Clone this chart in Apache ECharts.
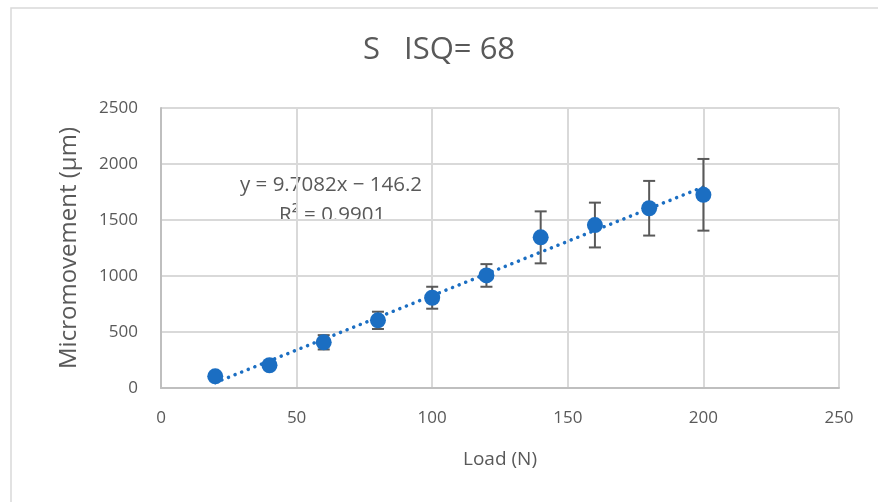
<!DOCTYPE html>
<html>
<head>
<meta charset="utf-8">
<script src="https://cdn.jsdelivr.net/npm/echarts@6/dist/echarts.min.js"></script>
<style>
  html, body { margin: 0; padding: 0; background: #fff; }
  #chart { width: 878px; height: 502px; }
</style>
</head>
<body>
<div id="chart"></div>
<script>
// data
const loads = [20, 40, 60, 80, 100, 120, 140, 160, 180, 200]
const movement = [104, 203, 408, 604, 806, 1005, 1345, 1455, 1605, 1725]
const errors = [15, 15, 64, 77, 98, 101, 232, 200, 244, 320]
const slope = 9.7082
const intercept = -146.2
const trendX = [20, 200]

const textColor = '#595959'
const blue = '#1b6ec2'

const chart = echarts.init(document.getElementById('chart'))

const option = {
    animation: false,
    title: {
        text: 'S   ISQ= 68',
        left: 'center',
        top: 30,
        textStyle: {
            fontFamily: 'Open Sans',
            fontWeight: 'normal',
            fontSize: 31,
            color: textColor
        }
    },
    grid: { left: 161, right: 39, top: 108, bottom: 114 },
    xAxis: {
        type: 'value',
        min: 0, max: 250, interval: 50,
        name: 'Load (N)',
        nameLocation: 'middle',
        nameGap: 62,
        nameTextStyle: { fontSize: 19, color: textColor, fontFamily: 'Open Sans' },
        axisLine: { lineStyle: { color: '#bfbfbf', width: 2 } },
        axisTick: { show: false },
        axisLabel: { fontSize: 17, color: textColor, margin: 22, fontFamily: 'Open Sans', formatter: v => String(v) },
        splitLine: { lineStyle: { color: '#d9d9d9', width: 2 } }
    },
    yAxis: {
        type: 'value',
        min: 0, max: 2500, interval: 500,
        name: 'Micromovement (µm)',
        nameLocation: 'middle',
        nameGap: 80,
        nameTextStyle: { fontSize: 24, color: textColor, fontFamily: 'Open Sans' },
        axisLine: { show: true, lineStyle: { color: '#bfbfbf', width: 2 } },
        axisTick: { show: false },
        axisLabel: { fontSize: 17, color: textColor, margin: 23, fontFamily: 'Open Sans', formatter: v => String(v) },
        splitLine: { lineStyle: { color: '#d9d9d9', width: 2 } }
    },
    graphic: [
        {
            type: 'rect',
            shape: { x: 11, y: 8, width: 880, height: 500 },
            style: { fill: 'none', stroke: '#d9d9d9', lineWidth: 1.5 },
            silent: true
        },
        {
            type: 'text',
            left: 240, top: 175,
            style: { text: 'y = 9.7082x − 146.2', fontSize: 20.5, fill: textColor, fontFamily: 'Open Sans' }
        },
        {
            type: 'text',
            left: 279, top: 205,
            style: { text: 'R² = 0.9901', fontSize: 20.5, fill: textColor, fontFamily: 'Open Sans' }
        }
    ],
    series: [
        {
            name: 'trend',
            type: 'line',
            data: trendX.map(x => [x, slope * x + intercept]),
            symbol: 'none',
            lineStyle: { color: blue, width: 3.5, type: [0.1, 7], cap: 'round' },
            z: 2
        },
        {
            name: 'error',
            type: 'custom',
            data: loads.map((x, i) => [x, movement[i] - errors[i], movement[i] + errors[i]]),
            renderItem: function (params, api) {
                const lo = api.coord([api.value(0), api.value(1)])
                const hi = api.coord([api.value(0), api.value(2)])
                const w = 6
                const st = { stroke: '#595959', lineWidth: 2 }
                return {
                    type: 'group',
                    children: [
                        { type: 'line', shape: { x1: lo[0], y1: lo[1], x2: hi[0], y2: hi[1] }, style: st },
                        { type: 'line', shape: { x1: lo[0] - w, y1: lo[1], x2: lo[0] + w, y2: lo[1] }, style: st },
                        { type: 'line', shape: { x1: hi[0] - w, y1: hi[1], x2: hi[0] + w, y2: hi[1] }, style: st }
                    ]
                }
            },
            z: 3
        },
        {
            name: 'points',
            type: 'scatter',
            data: loads.map((x, i) => [x, movement[i]]),
            symbolSize: 16,
            itemStyle: { color: blue, opacity: 1 },
            z: 4
        }
    ]
}

chart.setOption(option)
</script>
</body>
</html>
